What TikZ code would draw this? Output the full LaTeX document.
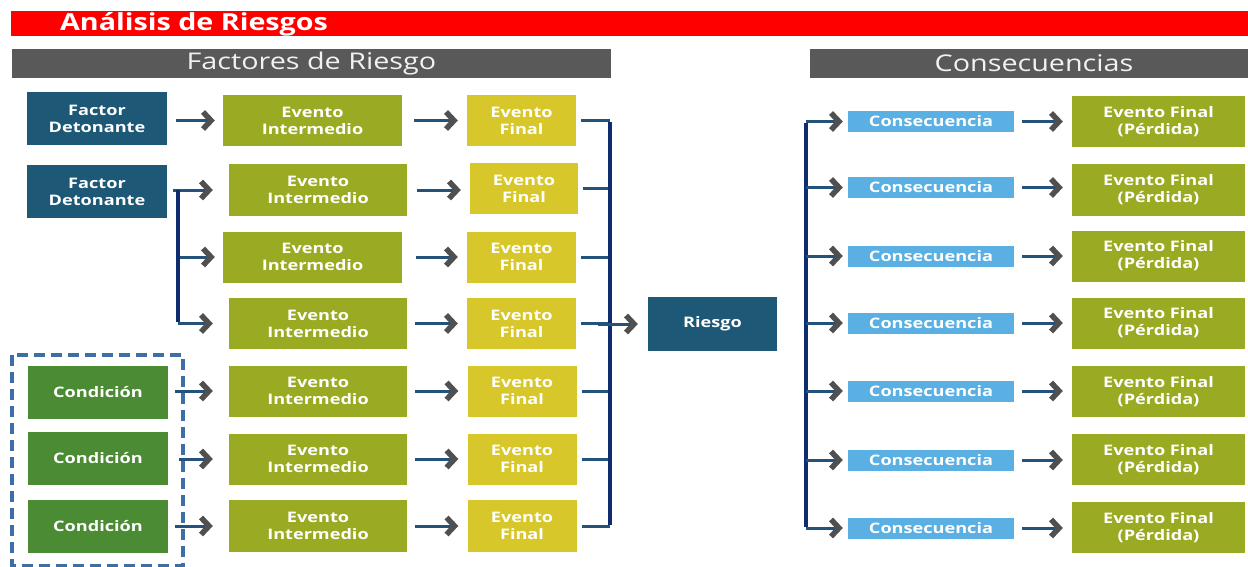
\documentclass[tikz,border=0pt]{standalone}
\usepackage{fontspec}
\setmainfont{Open Sans}
\newfontfamily\boxfont[FakeStretch=1.25]{Open Sans}
\newfontfamily\titlefont[FakeStretch=1.22]{Open Sans}
\usetikzlibrary{arrows.meta}
\definecolor{hred}{HTML}{FF0000}
\definecolor{hgray}{HTML}{595959}
\definecolor{cteal}{HTML}{1D5876}
\definecolor{colive}{HTML}{9AAB23}
\definecolor{cyellow}{HTML}{D8C72A}
\definecolor{cgreen}{HTML}{4A8B33}
\definecolor{cblue}{HTML}{5AB0E3}
\definecolor{chev}{HTML}{505050}
\definecolor{linec}{HTML}{24527A}
\definecolor{cnavy}{HTML}{0F2D6E}
\definecolor{dashc}{HTML}{3D6FA6}
\tikzset{
  box/.style={draw=none, text=white, align=center, inner sep=0pt,
    font=\boxfont\bfseries\fontsize{14.5}{17}\selectfont},
  fdbox/.style={box, fill=cteal, minimum width=140pt, minimum height=53pt},
  eibox/.style={box, fill=colive, minimum width=178pt, minimum height=51pt},
  efbox/.style={box, fill=cyellow, minimum width=109pt, minimum height=51pt},
  cdbox/.style={box, fill=cgreen, minimum width=140pt, minimum height=53pt},
  csbox/.style={box, fill=cblue, minimum width=166pt, minimum height=21pt},
  epbox/.style={box, fill=colive, minimum width=173pt, minimum height=51pt},
  hbar/.style={fill=hgray, text=white!95!black, inner sep=0pt, minimum height=29pt,
    font=\boxfont\fontsize{23}{26}\selectfont},
  conn/.style={draw=linec, line width=3pt,
    -{Straight Barb[length=8pt, width=17pt, line width=5.5pt 0, color=chev]}},
  hline/.style={draw=linec, line width=3pt},
  bracket/.style={draw=cnavy, line width=4pt},
  dashbox/.style={draw=dashc, line width=3.5pt, dash pattern=on 11pt off 6pt},
}
\begin{document}
\begin{tikzpicture}[x=1pt, y=-1pt]
\useasboundingbox (0,0) rectangle (1248,567);
\fill[white] (0,0) rectangle (1248,567);
% title bar
\fill[hred] (11,11) rectangle (1248,36);
\node[anchor=west, text=white, inner sep=0pt, font=\titlefont\bfseries\fontsize{23.5}{26}\selectfont] (title) at (60,24) {Análisis de Riesgos};
% section bars
\node[hbar, minimum width=599pt] (hfr) at (311.5,63.5) {Factores de Riesgo};
\node[hbar, minimum width=438pt] (hcs) at (1029,63.5) {\hspace*{10pt}Consecuencias};
% dashed box
\draw[dashbox] (12,355) rectangle (183,566);
% left nodes
\node[fdbox] (fd1) at (97,118.5) {Factor\\Detonante};
\node[fdbox] (fd2) at (97,191.5) {Factor\\Detonante};
\node[cdbox] (c1) at (98,392.5) {Condición};
\node[cdbox] (c2) at (98,458) {Condición};
\node[cdbox] (c3) at (98,526.5) {Condición};
% intermediate events
\node[eibox, minimum width=179pt] (ei1) at (312.5,120.5) {Evento\\Intermedio};
\node[eibox] (ei2) at (318,190) {Evento\\Intermedio};
\node[eibox, minimum width=179pt] (ei3) at (312.5,257) {Evento\\Intermedio};
\node[eibox] (ei4) at (318,323.5) {Evento\\Intermedio};
\node[eibox] (ei5) at (318,391) {Evento\\Intermedio};
\node[eibox] (ei6) at (318,459) {Evento\\Intermedio};
\node[eibox, minimum height=52pt] (ei7) at (318,526) {Evento\\Intermedio};
% final events
\node[efbox] (ef1) at (521.5,120.5) {Evento\\Final};
\node[efbox, minimum width=108pt] (ef2) at (524,188.5) {Evento\\Final};
\node[efbox] (ef3) at (521.5,257) {Evento\\Final};
\node[efbox] (ef4) at (521.5,323.5) {Evento\\Final};
\node[efbox] (ef5) at (522,391) {Evento\\Final};
\node[efbox] (ef6) at (522,459) {Evento\\Final};
\node[efbox, minimum height=52pt] (ef7) at (522,526) {Evento\\Final};
% risk
\node[box, fill=cteal, minimum width=129pt, minimum height=54pt] (rs) at (712.5,324) {Riesgo};
% consequences
\foreach \i/\y/\z in {1/121.5/122, 2/187.5/190, 3/256/256, 4/323/323, 5/391/391.5, 6/460/459.5, 7/528/527.5}{
  \node[csbox] (cs\i) at (931,\y) {Consecuencia};
  \node[epbox] (ep\i) at (1158.5,\z) {Evento Final\\(Pérdida)};
}
% left connectors
\draw[conn] ([xshift=9pt]fd1.east |- ei1.west) -- ([xshift=-8pt]ei1.west);
\coordinate (bl) at ([xshift=11pt]fd2.east |- ei2.west);
\draw[hline] ([xshift=6pt]fd2.east |- ei2.west) -- (bl);
\draw[conn] (bl) -- ([xshift=-16pt]ei2.west);
\draw[conn] (bl |- ei3.west) -- ([xshift=-8pt]ei3.west);
\draw[conn] (bl |- ei4.west) -- ([xshift=-16pt]ei4.west);
\draw[bracket] (bl) -- ([yshift=1.5pt]bl |- ei4.west);
\foreach \i in {5,6,7}{
  \coordinate (cst\i) at ([xshift=7pt]c1.east |- ei\i.west);
}
\draw[conn] (cst5) -- ([xshift=-16pt]ei5.west);
\draw[conn] ([xshift=4pt]cst6) -- ([xshift=-16pt]ei6.west);
\draw[conn] (cst7) -- ([xshift=-16pt]ei7.west);
% intermediate -> final
\draw[conn] ([xshift=12pt]ei1.east) -- ([xshift=-9pt]ef1.west);
\draw[conn] ([xshift=10pt]ei2.east) -- ([xshift=-9pt]ef2.west |- ei2.east);
\draw[conn] ([xshift=14pt]ei3.east) -- ([xshift=-9pt]ef3.west);
\draw[conn] ([xshift=8pt]ei4.east) -- ([xshift=-9pt]ef4.west);
\draw[conn] ([xshift=8pt]ei5.east) -- ([xshift=-9pt]ef5.west);
\draw[conn] ([xshift=8pt]ei6.east) -- ([xshift=-9pt]ef6.west);
\draw[conn] ([xshift=8pt]ei7.east) -- ([xshift=-9pt]ef7.west);
% right bracket of final events
\coordinate (br) at (610,0);
\foreach \i in {1,...,7}{
  \draw[hline] ([xshift=5pt]ef\i.east) -- (br |- ef\i.east);
}
\draw[bracket] ([yshift=-1.5pt]br |- ef1.east) -- ([yshift=1.5pt]br |- ef7.east);
\draw[conn] ([xshift=-12pt]br |- rs.west) -- ([xshift=-10pt]rs.west);
% consequence bracket
\coordinate (bc) at (806,0);
\draw[bracket] ([yshift=-1.5pt]bc |- cs1.west) -- ([yshift=1.5pt]bc |- cs7.west);
\foreach \i in {1,...,7}{
  \draw[conn] (bc |- cs\i.west) -- ([xshift=-5pt]cs\i.west);
  \draw[conn] ([xshift=8pt]cs\i.east) -- ([xshift=-9pt]ep\i.west |- cs\i.east);
}
\end{tikzpicture}
\end{document}
